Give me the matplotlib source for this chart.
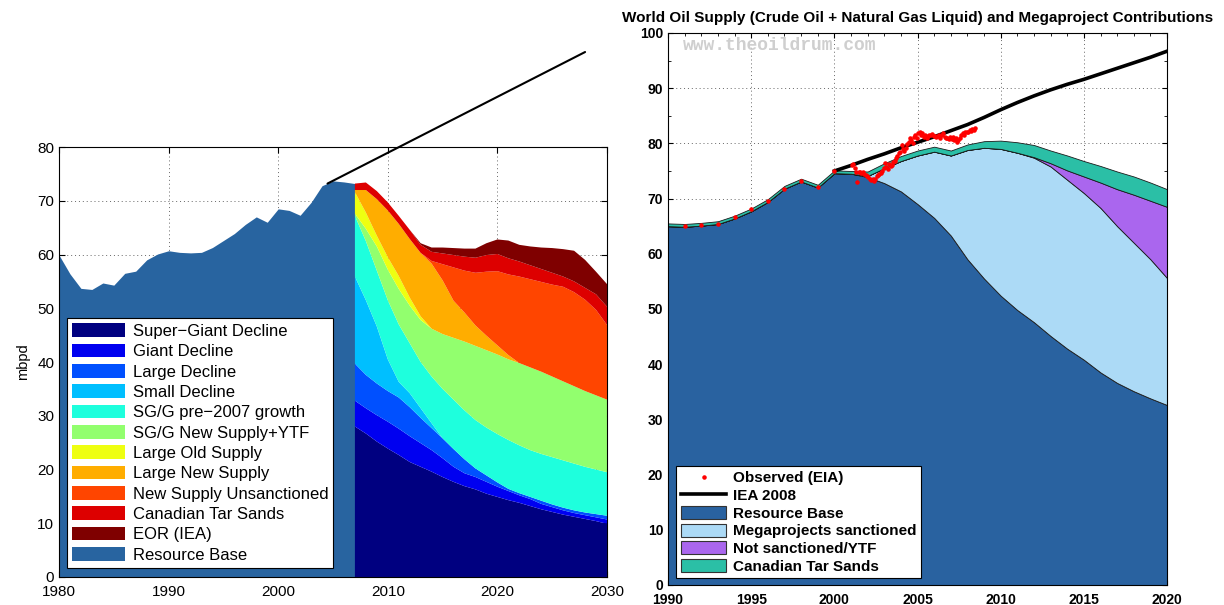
import numpy as np
import matplotlib.pyplot as plt
from matplotlib.patches import Patch, ConnectionPatch
from matplotlib.lines import Line2D
from matplotlib.ticker import MultipleLocator

plt.rcParams['font.family'] = ['Liberation Sans', 'DejaVu Sans']

# ---- left panel: historical resource base + forecast by category (mbpd)
hist_years = np.arange(1980, 2008)
hist_base = [59.9, 56.4, 53.7, 53.5, 54.7, 54.3, 56.5, 56.9, 59.0, 60.1,
             60.7, 60.4, 60.3, 60.4, 61.3, 62.6, 63.9, 65.6, 67.0, 66.0,
             68.5, 68.2, 67.3, 69.7, 72.8, 73.7, 73.5, 73.2]

fc_years = np.arange(2007, 2031)
super_giant = [28.0, 26.7, 25.2, 23.9, 22.7, 21.4, 20.5, 19.6, 18.6, 17.7, 16.9, 16.3,
               15.5, 14.9, 14.3, 13.8, 13.2, 12.6, 12.1, 11.6, 11.2, 10.8, 10.4, 9.9]
giant = [4.8, 4.7, 4.9, 5.0, 4.9, 4.8, 4.4, 4.0, 3.5, 2.8, 2.4, 2.3,
         2.2, 1.9, 1.7, 1.4, 1.3, 1.0, 0.9, 0.8, 0.7, 0.7, 0.7, 0.8]
large_decl = [6.9, 6.2, 5.9, 5.7, 5.8, 5.4, 4.7, 4.1, 3.7, 3.3, 2.6, 1.6,
              1.2, 0.8, 0.4, 0.4, 0.4, 0.6, 0.5, 0.5, 0.5, 0.5, 0.6, 0.7]
small_decl = [16.2, 13.9, 10.6, 5.9, 2.9, 2.6, 1.8, 0.9, 0, 0, 0, 0,
              0, 0, 0, 0, 0, 0, 0, 0, 0, 0, 0, 0]
sgg_pre2007 = [11.3, 11.0, 10.4, 11.0, 10.7, 9.3, 8.6, 8.7, 9.2, 9.2, 9.1, 9.0,
               8.9, 9.0, 9.1, 8.9, 8.7, 8.7, 8.8, 8.8, 8.7, 8.5, 8.3, 8.1]
sgg_new = [0.4, 2.3, 4.5, 5.7, 6.6, 7.0, 7.8, 8.9, 10.2, 11.5, 12.8, 13.8,
           14.4, 14.8, 15.0, 15.3, 15.4, 15.3, 15.0, 14.7, 14.4, 14.1, 13.8, 13.5]
large_old = [4.0, 3.0, 2.0, 2.3, 2.4, 1.5, 0.7, 0, 0, 0, 0, 0,
             0, 0, 0, 0, 0, 0, 0, 0, 0, 0, 0, 0]
large_new = [0.4, 4.2, 6.8, 8.7, 9.7, 10.9, 11.8, 12.1, 10.0, 6.9, 5.4, 3.8,
             2.7, 1.7, 0.8, 0, 0, 0, 0, 0, 0, 0, 0, 0]
new_unsanc = [0, 0, 0, 0, 0, 0, 0, 0.5, 3.0, 6.2, 7.8, 9.8,
              11.9, 13.8, 15.0, 16.1, 16.4, 16.7, 17.1, 17.6, 17.5, 17.0, 15.9, 13.9]
tar_sands = [1.2, 1.4, 1.5, 1.5, 1.5, 1.7, 1.5, 1.7, 2.0, 2.3, 2.6, 2.8,
             3.1, 3.2, 3.0, 2.8, 2.6, 2.4, 2.2, 1.9, 2.0, 2.2, 2.9, 3.4]
eor = [0, 0, 0, 0, 0, 0, 0.3, 0.8, 1.1, 1.3, 1.5, 1.7,
       2.2, 2.7, 3.3, 3.1, 3.5, 4.0, 4.6, 5.1, 5.7, 5.2, 4.2, 4.2]

left_labels = ['Super\u2212Giant Decline', 'Giant Decline', 'Large Decline', 'Small Decline',
               'SG/G pre\u22122007 growth', 'SG/G New Supply+YTF', 'Large Old Supply',
               'Large New Supply', 'New Supply Unsanctioned', 'Canadian Tar Sands',
               'EOR (IEA)', 'Resource Base']
left_colors = ['#000080', '#0000f0', '#0050ff', '#00bfff', '#1effdd', '#92ff6e',
               '#eeff11', '#ffad00', '#ff4500', '#dd0000', '#7f0000', '#2864a0']

# ---- right panel: world oil supply and megaproject contributions (mbpd)
r_years = np.arange(1990, 2021)
r_base = [65.0, 64.9, 65.1, 65.4, 66.4, 67.7, 69.4, 71.8, 73.1, 72.0, 74.6,
          74.5, 73.9, 72.8, 71.3, 69.0, 66.5, 63.3, 59.0, 55.5, 52.4,
          49.8, 47.6, 45.1, 42.8, 40.8, 38.5, 36.6, 35.1, 33.8, 32.6]
r_mega = [0, 0, 0, 0, 0, 0, 0, 0, 0, 0, 0,
          0, 0.2, 2.7, 5.5, 8.8, 12.0, 14.5, 19.8, 23.7, 26.6,
          28.5, 29.8, 30.7, 30.6, 30.2, 29.8, 28.4, 26.9, 25.2, 23.0]
r_ytf = [0, 0, 0, 0, 0, 0, 0, 0, 0, 0, 0,
         0, 0, 0, 0, 0, 0, 0, 0, 0, 0,
         0, 0.1, 0.6, 1.7, 3.0, 4.6, 6.7, 8.7, 10.6, 12.9]
r_tar = [0.5, 0.5, 0.5, 0.5, 0.5, 0.5, 0.5, 0.5, 0.5, 0.5, 0.5,
         0.5, 0.8, 0.9, 0.9, 0.9, 0.9, 0.9, 1.0, 1.2, 1.5,
         1.9, 2.2, 2.3, 2.7, 2.8, 3.0, 3.2, 3.3, 3.3, 3.2]
right_labels = ['Resource Base', 'Megaprojects sanctioned', 'Not sanctioned/YTF', 'Canadian Tar Sands']
right_colors = ['#2962a0', '#acdaf6', '#aa66ee', '#2bbfa6']

iea_years = np.arange(2000, 2021)
iea_2008 = [75.0, 76.0, 77.1, 78.1, 79.2, 80.2, 81.2, 82.3, 83.4, 84.7, 86.1,
            87.4, 88.6, 89.7, 90.7, 91.6, 92.6, 93.6, 94.6, 95.6, 96.7]

eia_years = np.arange(1991, 2001)
eia_annual = [65.0, 65.2, 65.4, 66.6, 68.1, 69.6, 71.7, 73.1, 72.1, 75.0]
eia_monthly = [76.0, 76.2, 75.6, 74.9, 73.0, 74.8, 74.9, 74.7, 74.9, 74.5, 74.3, 74.0,
               73.9, 73.5, 73.4, 73.6, 73.2, 73.5, 74.0, 74.2, 74.4, 74.6, 75.0, 75.6,
               76.4, 75.8, 75.4, 76.2, 75.9, 76.1, 76.6, 76.8, 77.3, 77.8, 78.2, 78.5,
               79.7, 79.0, 78.6, 79.2, 79.8, 80.3, 80.9, 80.6, 80.0, 81.2, 81.6, 81.0,
               81.8, 82.1, 81.5, 81.8, 81.2, 81.6, 80.9, 81.3, 81.6, 81.5, 81.7, 81.4,
               81.3, 81.2, 81.4, 81.5, 81.0, 81.6, 81.8, 81.2, 80.9, 81.0, 80.8, 81.1,
               80.8, 81.2, 80.6, 80.9, 80.3, 80.6, 81.0, 81.6, 81.8, 81.5, 82.0, 82.1,
               82.0, 82.4, 82.3, 82.6, 82.5, 82.7]
eia_month_x = 2001 + (np.arange(len(eia_monthly)) + 0.5) / 12

fig = plt.figure(figsize=(12.24, 6.05), dpi=100)

# left chart
ax1 = fig.add_axes([0.0482, 0.0463, 0.4477, 0.7107])
ax1.fill_between(hist_years, 0, hist_base, color=left_colors[-1], lw=0)
ax1.stackplot(fc_years, super_giant, giant, large_decl, small_decl, sgg_pre2007, sgg_new,
              large_old, large_new, new_unsanc, tar_sands, eor,
              colors=left_colors[:-1], lw=0)
ax1.set_xlim(1980, 2030)
ax1.set_ylim(0, 80)
ax1.xaxis.set_major_locator(MultipleLocator(10))
ax1.yaxis.set_major_locator(MultipleLocator(10))
ax1.tick_params(direction='in', top=True, right=True, labelsize=11, length=4)
ax1.tick_params(axis='x', pad=6)
ax1.set_axisbelow(True)
ax1.grid(True, color='#666666', linestyle=(0, (1, 3)), lw=0.7)
ax1.set_ylabel('mbpd', fontsize=10.5, labelpad=5)
h1 = [Patch(facecolor=c, edgecolor='none') for c in left_colors]
leg1 = ax1.legend(h1, left_labels, loc='lower left', bbox_to_anchor=(0.014, 0.022),
                  fontsize=12, handlelength=3.2, handleheight=0.9, labelspacing=0.28,
                  borderpad=0.3, handletextpad=0.45, fancybox=False, framealpha=1,
                  borderaxespad=0)
leg1.get_frame().set_edgecolor('black')
leg1.get_frame().set_linewidth(0.8)

# right chart
ax2 = fig.add_axes([0.5458, 0.0331, 0.4077, 0.9124])
ax2.stackplot(r_years, r_base, r_mega, r_ytf, r_tar, colors=right_colors,
              edgecolor='#1a1a1a', lw=0.6)
ax2.plot(iea_years, iea_2008, color='black', lw=2.6)
ax2.plot(eia_years, eia_annual, '.', color='red', ms=4.5)
ax2.plot(eia_month_x, eia_monthly, '.', color='red', ms=4.5)
ax2.set_xlim(1990, 2020)
ax2.set_ylim(0, 100)
ax2.xaxis.set_major_locator(MultipleLocator(5))
ax2.xaxis.set_minor_locator(MultipleLocator(1))
ax2.yaxis.set_major_locator(MultipleLocator(10))
ax2.yaxis.set_minor_locator(MultipleLocator(5))
ax2.tick_params(which='both', direction='in', top=True, right=True, labelsize=10)
ax2.tick_params(which='minor', length=2)
ax2.tick_params(axis='x', pad=6)
for lab in ax2.get_xticklabels() + ax2.get_yticklabels():
    lab.set_fontweight('bold')
ax2.set_axisbelow(True)
ax2.grid(True, color='#666666', linestyle=(0, (1, 3)), lw=0.7)
ax2.set_title('World Oil Supply (Crude Oil + Natural Gas Liquid) and Megaproject Contributions',
              fontsize=11, fontweight='bold', pad=8)
ax2.text(0.03, 0.978, 'www.theoildrum.com', transform=ax2.transAxes, va='center',
         fontfamily='Liberation Mono', fontweight='bold', fontsize=13, color='#cfcfcf')
h2 = [Line2D([], [], ls='none', marker='.', color='red', ms=4.5),
      Line2D([], [], color='black', lw=2.6)]
h2 += [Patch(facecolor=c, edgecolor='#333333', lw=0.8) for c in right_colors]
leg2 = ax2.legend(h2, ['Observed (EIA)', 'IEA 2008'] + right_labels, loc='lower left',
                  bbox_to_anchor=(0.016, 0.012), borderaxespad=0,
                  prop={'weight': 'bold', 'size': 11}, handlelength=3.0, handleheight=0.9,
                  labelspacing=0.2, borderpad=0.3, handletextpad=0.4,
                  fancybox=False, framealpha=1)
leg2.get_frame().set_edgecolor('black')
leg2.get_frame().set_linewidth(0.8)

# pointer line from the left chart's peak up to the right panel
con = ConnectionPatch(xyA=(2004.5, 73.2), coordsA=ax1.transData,
                      xyB=(0.478, 0.914), coordsB=fig.transFigure,
                      color='black', lw=1.5)
fig.add_artist(con)

fig.savefig('out.png', dpi=100)
